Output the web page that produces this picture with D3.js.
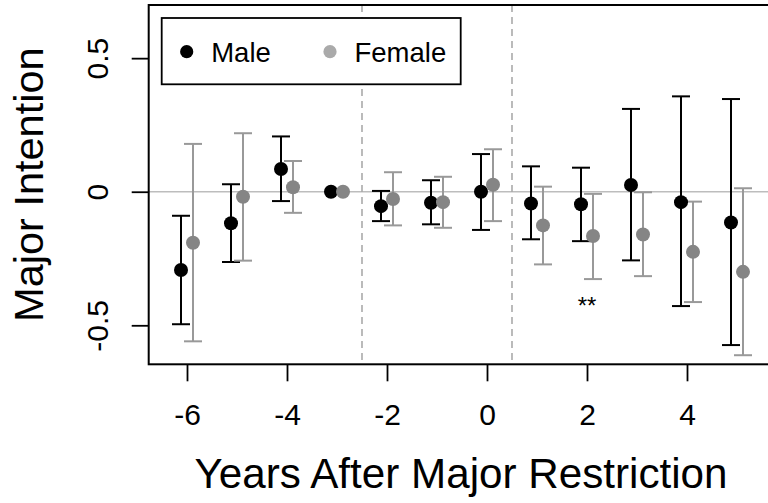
<!DOCTYPE html>
<html>
<head>
<meta charset="utf-8">
<script src="https://cdn.jsdelivr.net/npm/d3@7"></script>
<style>
  html, body { margin: 0; padding: 0; background: #fff; }
  svg { display: block; font-family: "Liberation Sans", Arial, sans-serif; }
</style>
</head>
<body>
<svg id="chart" width="768" height="503"></svg>
<script>
// ---- data ----
const years = [-6, -5, -4, -3, -2, -1, 0, 1, 2, 3, 4, 5];
const maleEst = [-0.293, -0.118, 0.085, 0, -0.054, -0.041, 0, -0.044, -0.047, 0.025, -0.039, -0.115];
const maleLo  = [-0.496, -0.263, -0.035, null, -0.110, -0.122, -0.143, -0.178, -0.185, -0.257, -0.428, -0.574];
const maleHi  = [-0.090, 0.028, 0.207, null, 0.003, 0.043, 0.141, 0.095, 0.090, 0.310, 0.357, 0.347];
const femaleEst = [-0.191, -0.019, 0.017, 0, -0.027, -0.039, 0.026, -0.126, -0.166, -0.160, -0.225, -0.300];
const femaleLo  = [-0.560, -0.258, -0.079, null, -0.126, -0.135, -0.110, -0.272, -0.327, -0.316, -0.413, -0.612];
const femaleHi  = [0.179, 0.219, 0.115, null, 0.073, 0.056, 0.159, 0.019, -0.008, -0.002, -0.037, 0.013];
const xTicks = [-6, -4, -2, 0, 2, 4];
const yTicks = [-0.5, 0, 0.5];
const yTickLabels = ["-0.5", "0", "0.5"];
const policyLines = [-2.5, 0.5];
const seriesNames = ["Male", "Female"];
const significance = [{ year: 2, label: "**", value: -0.43 }];

// ---- layout ----
const W = 768, H = 503;
const plot = { left: 148.7, right: 777, top: 5, bottom: 364.3 };
const offset = 0.12;

const svg = d3.select("#chart");
const x = d3.scaleLinear().domain([-6.766, 5.8]).range([plot.left, plot.right]);
const y = d3.scaleLinear().domain([-0.646, 0.699]).range([plot.bottom, plot.top]);

const maleColor = "#000000";
const femalePoint = "#858585";
const femaleBar = "#999999";
const femaleLegend = "#aaaaaa";

// zero line
svg.append("line")
  .attr("x1", plot.left).attr("x2", plot.right)
  .attr("y1", y(0)).attr("y2", y(0))
  .attr("stroke", "#bdbdbd").attr("stroke-width", 1.6);

// dashed policy lines
svg.selectAll("line.policy").data(policyLines).enter().append("line")
  .attr("class", "policy")
  .attr("x1", d => x(d)).attr("x2", d => x(d))
  .attr("y1", plot.top).attr("y2", plot.bottom)
  .attr("stroke", "#aaaaaa").attr("stroke-width", 1.6)
  .attr("stroke-dasharray", "7,5");

// build series
function buildSeries(est, lo, hi, off) {
  return years.map((yr, i) => ({ x: yr + off, est: est[i], lo: lo[i], hi: hi[i] }));
}
const male = buildSeries(maleEst, maleLo, maleHi, -offset);
const female = buildSeries(femaleEst, femaleLo, femaleHi, offset);

function drawErrorBars(data, color) {
  const g = svg.append("g").attr("stroke", color).attr("stroke-width", 2).attr("fill", "none");
  const cap = 9;
  data.filter(d => d.lo !== null).forEach(d => {
    g.append("line").attr("x1", x(d.x)).attr("x2", x(d.x)).attr("y1", y(d.lo)).attr("y2", y(d.hi));
    g.append("line").attr("x1", x(d.x) - cap).attr("x2", x(d.x) + cap).attr("y1", y(d.lo)).attr("y2", y(d.lo));
    g.append("line").attr("x1", x(d.x) - cap).attr("x2", x(d.x) + cap).attr("y1", y(d.hi)).attr("y2", y(d.hi));
  });
}
drawErrorBars(male, maleColor);
drawErrorBars(female, femaleBar);

function drawPoints(data, color) {
  svg.append("g").selectAll("circle").data(data).enter().append("circle")
    .attr("cx", d => x(d.x)).attr("cy", d => y(d.est)).attr("r", 7)
    .attr("fill", color);
}
drawPoints(male, maleColor);
drawPoints(female, femalePoint);

// significance marker
svg.selectAll("text.sig").data(significance).enter().append("text")
  .attr("class", "sig")
  .attr("x", d => x(d.year)).attr("y", d => y(d.value) + 7)
  .attr("text-anchor", "middle").attr("font-size", 24).attr("fill", "#000")
  .text(d => d.label);

// plot box
svg.append("rect")
  .attr("x", plot.left).attr("y", plot.top)
  .attr("width", plot.right - plot.left).attr("height", plot.bottom - plot.top)
  .attr("fill", "none").attr("stroke", "#000").attr("stroke-width", 2);

// x axis
const xAxis = d3.axisBottom(x).tickValues(xTicks).tickSize(17).tickPadding(22)
  .tickFormat(d3.format("d"));
const gx = svg.append("g").attr("transform", `translate(0,${plot.bottom})`).call(xAxis);
gx.select(".domain").remove();
gx.selectAll(".tick line").attr("stroke", "#000").attr("stroke-width", 1.8);
gx.selectAll(".tick text").attr("font-size", 30).attr("fill", "#000")
  .attr("font-family", "Liberation Sans, Arial, sans-serif")
  .text(d => d < 0 ? "-" + Math.abs(d) : String(d));

// y axis
const yAxis = d3.axisLeft(y).tickValues(yTicks).tickSize(17)
  .tickFormat((d, i) => yTickLabels[i]);
const gy = svg.append("g").attr("transform", `translate(${plot.left},0)`).call(yAxis);
gy.select(".domain").remove();
gy.selectAll(".tick line").attr("stroke", "#000").attr("stroke-width", 1.8);
gy.selectAll(".tick text")
  .attr("font-size", 30).attr("fill", "#000")
  .attr("font-family", "Liberation Sans, Arial, sans-serif")
  .attr("x", null).attr("dy", null)
  .attr("text-anchor", "middle")
  .attr("transform", "translate(-40.5,0) rotate(-90)");

// axis titles
svg.append("text")
  .attr("x", 461).attr("y", 488)
  .attr("text-anchor", "middle").attr("font-size", 42.2).attr("fill", "#000")
  .text("Years After Major Restriction");
svg.append("text")
  .attr("transform", `translate(42.7,${(plot.top + plot.bottom) / 2}) rotate(-90)`)
  .attr("text-anchor", "middle").attr("font-size", 41.5).attr("fill", "#000")
  .text("Major Intention");

// legend
const lg = svg.append("g");
lg.append("rect").attr("x", 161.7).attr("y", 18).attr("width", 299).attr("height", 66.3)
  .attr("fill", "#fff").attr("stroke", "#000").attr("stroke-width", 1.8);
const legendItems = [
  { name: seriesNames[0], color: maleColor, cx: 186.7, tx: 211.2 },
  { name: seriesNames[1], color: femaleLegend, cx: 330, tx: 354.5 }
];
legendItems.forEach(it => {
  lg.append("circle").attr("cx", it.cx).attr("cy", 51.7).attr("r", 6.6).attr("fill", it.color);
  lg.append("text").attr("x", it.tx).attr("y", 61.5).attr("font-size", 27.5).attr("fill", "#000")
    .text(it.name);
});
</script>
</body>
</html>
